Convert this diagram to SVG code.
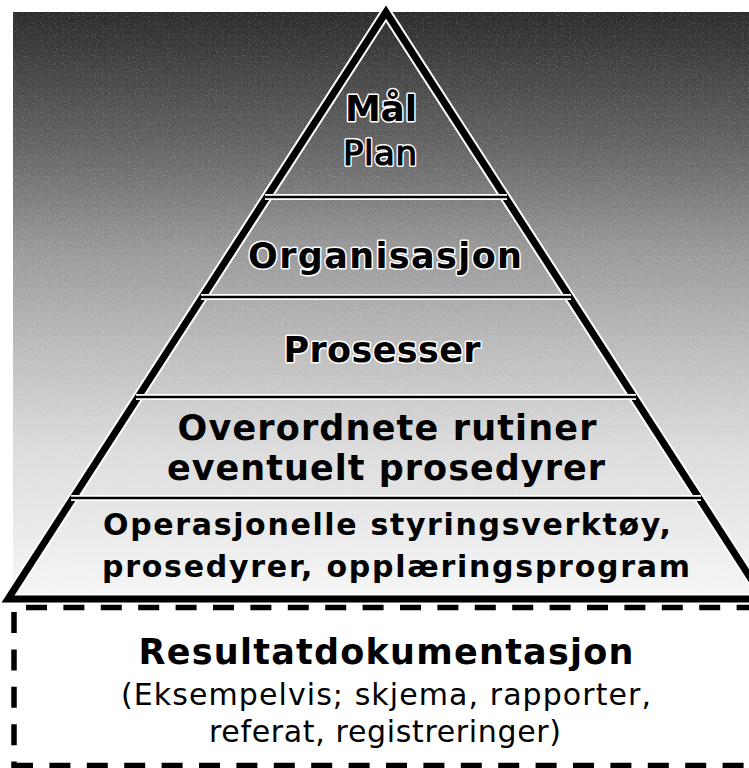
<svg xmlns="http://www.w3.org/2000/svg" width="749" height="768" viewBox="0 0 749 768">
  <defs>
    <linearGradient id="bg" gradientUnits="userSpaceOnUse" x1="0" y1="12" x2="0" y2="598">
      <stop offset="0" stop-color="#2c2c2c"/>
      <stop offset="0.235" stop-color="#666"/>
      <stop offset="0.406" stop-color="#999"/>
      <stop offset="0.577" stop-color="#bdbdbd"/>
      <stop offset="0.747" stop-color="#dcdcdc"/>
      <stop offset="1" stop-color="#f6f6f6"/>
    </linearGradient>
    <filter id="noise" x="0" y="0" width="100%" height="100%">
      <feTurbulence type="fractalNoise" baseFrequency="0.85" numOctaves="1" seed="7" result="t"/>
      <feColorMatrix in="t" type="matrix" values="0 0 0 0 1  0 0 0 0 1  0 0 0 0 1  0 0 0 3 -1.6"/>
      <feComposite in2="SourceGraphic" operator="in"/>
    </filter>
    <style>
      .b { font-family: "DejaVu Sans", Verdana, sans-serif; font-weight: bold; fill: #000; text-anchor: middle; }
      .r { font-family: "DejaVu Sans", Verdana, sans-serif; font-weight: normal; fill: #000; text-anchor: middle; }
      .halo { stroke: #fff; stroke-width: 3; paint-order: stroke; stroke-linejoin: round; }
      .div { stroke: #000; stroke-width: 2.5; }
      .divh { stroke: #fff; stroke-width: 6; }
      .dash { stroke: #000; stroke-width: 5.5; fill: none; stroke-dasharray: 21 16.4; }
    </style>
  </defs>

  <g id="background">
    <rect x="13" y="12" width="736" height="587" fill="url(#bg)"/>
    <rect x="13" y="12" width="736" height="587" fill="#000" opacity="0.25" filter="url(#noise)"/>
  </g>

  <g id="pyramid">
    <polygon points="386,12 8,599 764,599" fill="none" stroke="#fff" stroke-width="11" stroke-linejoin="miter" stroke-miterlimit="10"/>
    <polygon points="386,12 8,599 764,599" fill="none" stroke="#000" stroke-width="7" stroke-linejoin="miter" stroke-miterlimit="10"/>
  </g>

  <g id="connectors">
    <line class="divh" x1="265" y1="197" x2="507" y2="197"/>
    <line class="divh" x1="201" y1="297" x2="571" y2="297"/>
    <line class="divh" x1="136" y1="397" x2="636" y2="397"/>
    <line class="divh" x1="71" y1="498" x2="701" y2="498"/>
    <line class="div" x1="265" y1="197" x2="507" y2="197"/>
    <line class="div" x1="201" y1="297" x2="571" y2="297"/>
    <line class="div" x1="136" y1="397" x2="636" y2="397"/>
    <line class="div" x1="71" y1="498" x2="701" y2="498"/>
  </g>

  <g id="level-mal-plan">
    <text class="b halo" x="381" y="121" font-size="36" textLength="72">Mål</text>
    <text class="r" x="380" y="165" font-size="34" textLength="74" fill="#6a6a6a" stroke="#fff" stroke-width="4" stroke-linejoin="round">Plan</text>
    <text class="r" x="380" y="165" font-size="34" textLength="74" fill="#6a6a6a" stroke="#000" stroke-width="1.2" stroke-linejoin="round">Plan</text>
  </g>

  <g id="level-organisasjon">
    <text class="b halo" x="385" y="268" font-size="35" textLength="274">Organisasjon</text>
  </g>

  <g id="level-prosesser">
    <text class="b halo" x="382" y="362" font-size="35" textLength="197">Prosesser</text>
  </g>

  <g id="level-rutiner">
    <text class="b" x="387" y="440" font-size="35" textLength="419">Overordnete rutiner</text>
    <text class="b" x="386" y="480" font-size="35" textLength="438">eventuelt prosedyrer</text>
  </g>

  <g id="level-operasjonelle">
    <text class="b" x="387" y="535" font-size="30" textLength="568">Operasjonelle styringsverktøy,</text>
    <text class="b" x="396" y="577" font-size="30" textLength="588">prosedyrer, opplæringsprogram</text>
  </g>

  <g id="resultatdokumentasjon">
    <line class="dash" x1="26" y1="607.5" x2="749" y2="607.5"/>
    <line class="dash" x1="14" y1="612" x2="14" y2="768"/>
    <line class="dash" x1="12" y1="765.5" x2="749" y2="765.5"/>
    <text class="b" x="386" y="664" font-size="35" textLength="495">Resultatdokumentasjon</text>
    <text class="r" x="386" y="705" font-size="30" textLength="530">(Eksempelvis; skjema, rapporter,</text>
    <text class="r" x="385" y="742" font-size="30" textLength="352">referat, registreringer)</text>
  </g>
</svg>
